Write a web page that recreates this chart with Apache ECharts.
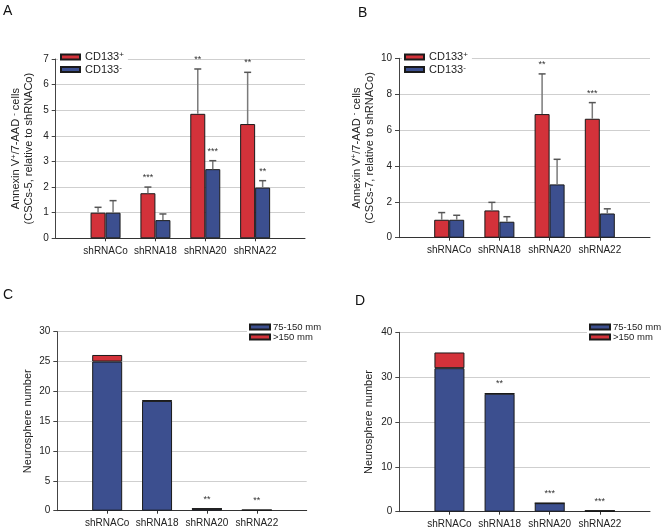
<!DOCTYPE html>
<html><head><meta charset="utf-8">
<script src="https://cdn.jsdelivr.net/npm/echarts@6/dist/echarts.min.js"></script>
<style>html,body{margin:0;padding:0;background:#fff}#c{width:662px;height:532px}</style>
</head><body><div id="c"></div>
<script>
// ---- data ----
const groups = ['shRNACo', 'shRNA18', 'shRNA20', 'shRNA22'];
// Panel A (CSCs-5)
const aPosVal = [1.0, 1.76, 4.86, 4.46];
const aPosErr = [0.21, 0.24, 1.75, 2.02];
const aPosStars = ['', '***', '**', '**'];
const aNegVal = [1.0, 0.71, 2.70, 1.98];
const aNegErr = [0.47, 0.24, 0.33, 0.27];
const aNegStars = ['', '', '***', '**'];
// Panel B (CSCs-7)
const bPosVal = [1.0, 1.52, 6.89, 6.63];
const bPosErr = [0.40, 0.45, 2.24, 0.90];
const bPosStars = ['', '', '**', '***'];
const bNegVal = [1.0, 0.89, 2.97, 1.35];
const bNegErr = [0.25, 0.28, 1.40, 0.26];
const bNegStars = ['', '', '', ''];
// Panel C
const cSmall = [25.0, 18.4, 0.33, 0.1];
const cLarge = [1.1, 0.1, 0, 0];
const cStars = ['', '', '**', '**'];
// Panel D
const dSmall = [32.0, 26.3, 1.9, 0.2];
const dLarge = [3.5, 0.1, 0, 0];
const dStars = ['', '**', '***', '***'];
// axis ticks
const yA = {max: 7, interval: 1};
const yB = {max: 10, interval: 2};
const yC = {max: 30, interval: 5};
const yD = {max: 40, interval: 10};

// ---- styling ----
const RED = '#d3323a', BLUE = '#3c4f8f';
const FONT = "'Liberation Sans', Arial, sans-serif";
const categories = [''].concat(groups, ['']);
const pad = arr => [null].concat(arr, [null]);

const grids = [
  {left: 55.7, top: 59, width: 249.3, height: 179.3},
  {left: 399, top: 58.3, width: 251, height: 179.4},
  {left: 57.3, top: 331.7, width: 249.4, height: 179},
  {left: 399.3, top: 332.3, width: 250.7, height: 179.4}
];

function xAxis(i) {
  return {
    type: 'category', gridIndex: i, data: categories, boundaryGap: false,
    axisLine: {lineStyle: {color: '#333', width: 1}},
    axisTick: {length: 3, interval: idx => idx >= 1 && idx <= groups.length, lineStyle: {color: '#333'}},
    axisLabel: {interval: 0, margin: 8, fontSize: 10, color: '#222', fontFamily: FONT},
    splitLine: {show: false}
  };
}
function yAxis(i, cfg, name, gap) {
  return {
    type: 'value', gridIndex: i, min: 0, max: cfg.max, interval: cfg.interval,
    axisLine: {show: true, lineStyle: {color: '#444'}},
    axisTick: {show: true, length: 4, lineStyle: {color: '#444'}},
    axisLabel: {fontSize: 10, color: '#222', margin: 7, fontFamily: FONT},
    splitLine: {lineStyle: {color: '#cfcfcf', width: 1}},
    name: name, nameLocation: 'middle', nameRotate: 90, nameGap: gap,
    nameTextStyle: {
      fontSize: 11, color: '#222', fontFamily: FONT, lineHeight: 13, align: 'center',
      rich: {
        t: {fontSize: 11, lineHeight: 13, fontFamily: FONT, color: '#222'},
        s: {fontSize: 8, lineHeight: 8, verticalAlign: 'top', fontFamily: FONT, color: '#222'}
      }
    }
  };
}

function errSeries(i, vals, errs, stars, offset) {
  return {
    type: 'custom', name: 'err' + i + offset, xAxisIndex: i, yAxisIndex: i, z: 5,
    data: vals.map((v, k) => [k + 1, v, errs[k]]),
    renderItem: function (params, api) {
      const x = api.value(0), v = api.value(1), e = api.value(2);
      const p0 = api.coord([x, v]);
      const p1 = api.coord([x, v + e]);
      const cx = p0[0] + offset;
      const ch = [
        {type: 'line', shape: {x1: cx, y1: p0[1], x2: cx, y2: p1[1]}, style: {stroke: '#7a7a7a', lineWidth: 1.5}},
        {type: 'line', shape: {x1: cx - 3.5, y1: p1[1], x2: cx + 3.5, y2: p1[1]}, style: {stroke: '#555', lineWidth: 1.5}}
      ];
      const s = stars[params.dataIndex];
      if (s) ch.push({type: 'text', style: {text: s, x: cx, y: p1[1] - 5, align: 'center', verticalAlign: 'bottom', fontSize: 9, fill: '#333', fontFamily: FONT}});
      return {type: 'group', children: ch};
    }
  };
}
function starSeries(i, totals, stars) {
  return {
    type: 'custom', name: 'stars' + i, xAxisIndex: i, yAxisIndex: i, z: 5,
    data: totals.map((v, k) => [k + 1, v]),
    renderItem: function (params, api) {
      const s = stars[params.dataIndex];
      if (!s) return null;
      const p = api.coord([api.value(0), api.value(1)]);
      return {type: 'text', style: {text: s, x: p[0], y: p[1] - 5, align: 'center', verticalAlign: 'bottom', fontSize: 9, fill: '#333', fontFamily: FONT}};
    }
  };
}
function bar(i, name, vals, color, width, stack) {
  const s = {
    type: 'bar', name: name, xAxisIndex: i, yAxisIndex: i, data: pad(vals),
    barWidth: width, barGap: '0%',
    itemStyle: {color: color, borderColor: '#1a1a1a', borderWidth: 1}
  };
  if (stack) s.stack = stack;
  return s;
}

const annexA = '{t|Annexin V}{s|+}{t|/7-AAD }{s|-}{t| cells}\n{t|(CSCs-5, relative to shRNACo)}';
const annexB = '{t|Annexin V}{s|+}{t|/7-AAD }{s|-}{t| cells}\n{t|(CSCs-7, relative to shRNACo)}';

const legendRich = {
  b: {fontSize: 11, lineHeight: 12, fontFamily: FONT, color: '#222'},
  s: {fontSize: 8, lineHeight: 7, verticalAlign: 'top', fontFamily: FONT, color: '#222'}
};
function cdLegend(left, top) {
  return {
    left: left, top: top, orient: 'vertical', itemWidth: 19, itemHeight: 5, itemGap: 1, icon: 'rect',
    backgroundColor: '#fff', padding: [2, 4, 2, 2],
    data: ['CD133+', 'CD133-'],
    formatter: n => '{b|CD133}{s|' + n.slice(-1) + '}',
    textStyle: {rich: legendRich, padding: [0, 0, 0, 0]}
  };
}
function sizeLegend(left, top) {
  return {
    left: left, top: top, orient: 'vertical', itemWidth: 20, itemHeight: 5, itemGap: 0, icon: 'rect',
    backgroundColor: '#fff', padding: [1, 2, 1, 2],
    data: ['75-150 mm', '>150 mm'],
    textStyle: {fontSize: 9.5, lineHeight: 10, color: '#222', fontFamily: FONT, padding: [0, 0, 0, -2]}
  };
}

const cTot = cSmall.map((v, k) => v + cLarge[k]);
const dTot = dSmall.map((v, k) => v + dLarge[k]);

const option = {
  animation: false,
  backgroundColor: '#fff',
  textStyle: {fontFamily: FONT},
  grid: grids,
  xAxis: [0, 1, 2, 3].map(xAxis),
  yAxis: [
    yAxis(0, yA, annexA, 20),
    yAxis(1, yB, annexB, 23),
    yAxis(2, yC, 'Neurosphere number', 23),
    yAxis(3, yD, 'Neurosphere number', 24)
  ],
  legend: [cdLegend(58, 49), cdLegend(402, 49), sizeLegend(247, 321), sizeLegend(587, 321)],
  graphic: [
    {type: 'text', left: 3, top: 4, style: {text: 'A', fontSize: 14, fill: '#111', fontFamily: FONT}},
    {type: 'text', left: 358, top: 6, style: {text: 'B', fontSize: 14, fill: '#111', fontFamily: FONT}},
    {type: 'text', left: 3, top: 288, style: {text: 'C', fontSize: 14, fill: '#111', fontFamily: FONT}},
    {type: 'text', left: 355, top: 294, style: {text: 'D', fontSize: 14, fill: '#111', fontFamily: FONT}}
  ],
  series: [
    bar(0, 'CD133+', aPosVal, RED, 15),
    bar(0, 'CD133-', aNegVal, BLUE, 15),
    errSeries(0, aPosVal, aPosErr, aPosStars, -7.5),
    errSeries(0, aNegVal, aNegErr, aNegStars, 7.5),
    bar(1, 'CD133+', bPosVal, RED, 15),
    bar(1, 'CD133-', bNegVal, BLUE, 15),
    errSeries(1, bPosVal, bPosErr, bPosStars, -7.5),
    errSeries(1, bNegVal, bNegErr, bNegStars, 7.5),
    bar(2, '75-150 mm', cSmall, BLUE, 30, 'c'),
    bar(2, '>150 mm', cLarge, RED, 30, 'c'),
    starSeries(2, cTot, cStars),
    bar(3, '75-150 mm', dSmall, BLUE, 30, 'd'),
    bar(3, '>150 mm', dLarge, RED, 30, 'd'),
    starSeries(3, dTot, dStars)
  ]
};
echarts.init(document.getElementById('c'), null, {renderer: 'canvas'}).setOption(option);
</script>
</body></html>
